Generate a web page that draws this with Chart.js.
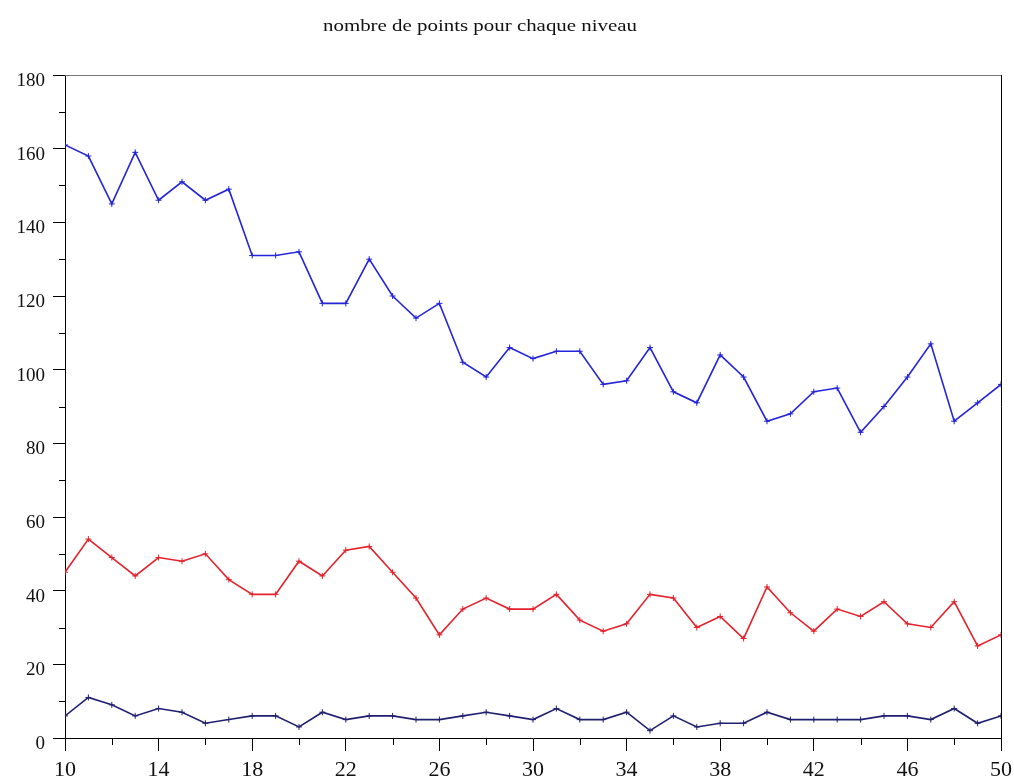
<!DOCTYPE html>
<html>
<head>
<meta charset="utf-8">
<script src="https://cdn.jsdelivr.net/npm/chart.js@4/dist/chart.umd.min.js"></script>
<style>
  html, body { margin: 0; padding: 0; background: #fff; }
  canvas { display: block; }
</style>
</head>
<body>
<canvas id="c" width="1014" height="784"></canvas>
<script>
// Niveaux (axe des abscisses)
const niveaux = [10,11,12,13,14,15,16,17,18,19,20,21,22,23,24,25,26,27,28,29,30,
                 31,32,33,34,35,36,37,38,39,40,41,42,43,44,45,46,47,48,49,50];

// Nombre de points par niveau, trois séries
const serieHaute = [161,158,145,159,146,151,146,149,131,131,132,118,118,130,120,114,118,102,98,106,103,
                    105,105,96,97,106,94,91,104,98,86,88,94,95,83,90,98,107,86,91,96];
const serieMoyenne = [45,54,49,44,49,48,50,43,39,39,48,44,51,52,45,38,28,35,38,35,35,
                      39,32,29,31,39,38,30,33,27,41,34,29,35,33,37,31,30,37,25,28];
const serieBasse = [6,11,9,6,8,7,4,5,6,6,3,7,5,6,6,5,5,6,7,6,5,
                    8,5,5,7,2,6,3,4,4,7,5,5,5,5,6,6,5,8,4,6];

const titre = 'nombre de points pour chaque niveau';
const xTicks = [10,14,18,22,26,30,34,38,42,46,50];
const yTicks = [0,20,40,60,80,100,120,140,160,180];
const xMinor = [12,16,20,24,28,32,36,40,44,48];
const yMinor = [10,30,50,70,90,110,130,150,170];

const pts = (ys) => niveaux.map((x, i) => ({ x: x, y: ys[i] }));

const serif = "'Liberation Serif', 'DejaVu Serif', serif";

// Titre, cadre et petites graduations
const decor = {
  id: 'decor',
  afterDraw(chart) {
    const ctx = chart.ctx;
    const a = chart.chartArea;
    const xs = chart.scales.x, ys = chart.scales.y;
    ctx.save();
    // cadre haut et droit
    ctx.lineWidth = 1;
    ctx.strokeStyle = '#777';
    ctx.beginPath();
    ctx.moveTo(a.left, a.top + 0.5);
    ctx.lineTo(a.right, a.top + 0.5);
    ctx.stroke();
    ctx.strokeStyle = '#000';
    ctx.beginPath();
    ctx.moveTo(a.right + 0.5, a.top);
    ctx.lineTo(a.right + 0.5, a.bottom);
    ctx.stroke();
    // graduations secondaires
    ctx.strokeStyle = '#000';
    ctx.beginPath();
    xMinor.forEach(v => {
      const px = Math.round(xs.getPixelForValue(v)) + 0.5;
      ctx.moveTo(px, a.bottom);
      ctx.lineTo(px, a.bottom + 7);
    });
    yMinor.forEach(v => {
      const py = Math.round(ys.getPixelForValue(v)) + 0.5;
      ctx.moveTo(a.left - 6, py);
      ctx.lineTo(a.left, py);
    });
    ctx.stroke();
    // titre
    ctx.fillStyle = '#111';
    ctx.font = '17px ' + serif;
    ctx.textBaseline = 'alphabetic';
    ctx.textAlign = 'left';
    const w = ctx.measureText(titre).width;
    const cible = 314;
    ctx.translate(480 - cible / 2, 31);
    ctx.scale(cible / w, 1);
    ctx.fillText(titre, 0, 0);
    ctx.restore();
  }
};

const ligne = (data, color) => ({
  data: pts(data),
  borderColor: color,
  backgroundColor: color,
  borderWidth: 1.6,
  pointStyle: 'cross',
  pointRadius: 3,
  pointBorderWidth: 1,
  pointBorderColor: color,
  pointHoverRadius: 3,
  tension: 0,
  fill: false
});

new Chart(document.getElementById('c'), {
  type: 'line',
  data: {
    datasets: [
      ligne(serieHaute, '#2424d8'),
      ligne(serieMoyenne, '#e4222c'),
      ligne(serieBasse, '#202070')
    ]
  },
  options: {
    responsive: false,
    animation: false,
    events: [],
    layout: { padding: { top: 75, right: 13, bottom: 0, left: 0 } },
    plugins: { legend: { display: false }, title: { display: false }, tooltip: { enabled: false } },
    scales: {
      x: {
        type: 'linear',
        min: 10, max: 50,
        afterBuildTicks: (s) => { s.ticks = xTicks.map(v => ({ value: v })); },
        afterFit: (s) => { s.height = 46; s.paddingLeft = 0; s.paddingRight = 0; },
        grid: { display: true, drawOnChartArea: false, drawTicks: true, tickLength: 13, color: '#000' },
        border: { display: true, color: '#000', width: 1 },
        ticks: { color: '#111', font: { family: serif, size: 22 }, padding: 6, maxRotation: 0, autoSkip: false }
      },
      y: {
        type: 'linear',
        min: 0, max: 180,
        afterBuildTicks: (s) => { s.ticks = yTicks.map(v => ({ value: v })); },
        afterFit: (s) => { s.width = 65; s.paddingTop = 0; s.paddingBottom = 0; },
        grid: { display: true, drawOnChartArea: false, drawTicks: true, tickLength: 12, color: '#000' },
        border: { display: true, color: '#000', width: 1 },
        ticks: { color: '#111', font: { family: serif, size: 19 }, padding: 8, labelOffset: 6, autoSkip: false }
      }
    }
  },
  plugins: [decor]
});
</script>
</body>
</html>
